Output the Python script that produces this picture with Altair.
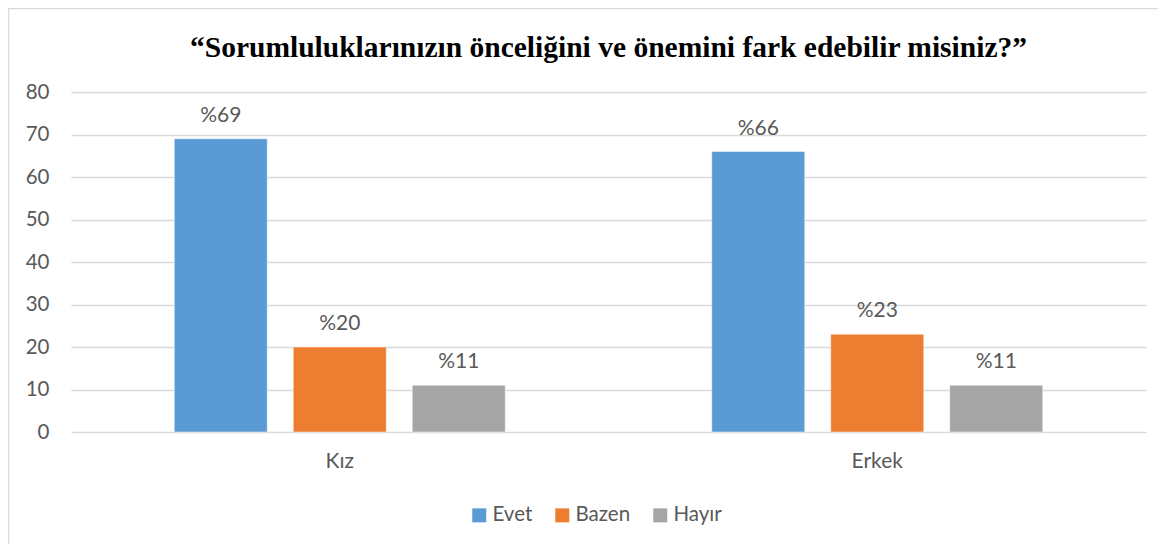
import altair as alt
import pandas as pd

groups = ["Kız", "Erkek"]
answers = ["Evet", "Bazen", "Hayır"]
values_kiz = [69, 20, 11]
values_erkek = [66, 23, 11]
colors = ["#5B9BD5", "#ED7D31", "#A5A5A5"]
y_ticks = [0, 10, 20, 30, 40, 50, 60, 70, 80]
title_text = "“Sorumluluklarınızın önceliğini ve önemini fark edebilir misiniz?”"

rows = []
for g, vals in zip(groups, [values_kiz, values_erkek]):
    for a, v in zip(answers, vals):
        rows.append({"grup": g, "cevap": a, "deger": v, "etiket": f"%{v}"})
df = pd.DataFrame(rows)

W, H = 1075, 340
FONT = "Lato"
GRAY = "#595959"

x = alt.X("grup:N", sort=groups, title=None,
          scale=alt.Scale(paddingInner=0.3842, paddingOuter=0.1921),
          axis=alt.Axis(labelAngle=0, labelPadding=18, ticks=False, domain=False,
                        labelFont=FONT, labelFontSize=21, labelColor=GRAY))
xo = alt.XOffset("cevap:N", sort=answers,
                 scale=alt.Scale(paddingInner=0.2185, paddingOuter=0))
y = alt.Y("deger:Q", title=None,
          scale=alt.Scale(domain=[0, 80], nice=False),
          axis=alt.Axis(values=y_ticks, ticks=False, domain=False, labelPadding=22,
                        labelFont=FONT, labelFontSize=20.5, labelColor=GRAY,
                        gridColor="#D9D9D9", gridWidth=1.3))

base = alt.Chart(df)

bars = base.mark_bar(stroke="#ffffff", strokeWidth=0.8, strokeOpacity=0.6).encode(
    x=x, xOffset=xo, y=y,
    color=alt.Color("cevap:N", sort=answers,
                    scale=alt.Scale(domain=answers, range=colors),
                    legend=alt.Legend(title=None, orient="none", direction="horizontal",
                                      legendX=398, legendY=413,
                                      symbolType="square", symbolSize=196,
                                      symbolStrokeWidth=0,
                                      labelFont=FONT, labelFontSize=20.5, labelColor=GRAY,
                                      columnPadding=19, labelOffset=3)),
)

labels = base.mark_text(baseline="alphabetic", dy=-17, font=FONT, fontSize=21, color=GRAY).encode(
    x=x, xOffset=xo, y=y, text="etiket:N"
)

border = alt.Chart(pd.DataFrame({"k": [0]})).mark_rect(
    fill=None, stroke="#D9D9D9", strokeWidth=1.5, clip=False
).encode(
    x=alt.value(-62.5), x2=alt.value(1200), y=alt.value(-83.5), y2=alt.value(600)
)

chart = alt.layer(border, bars, labels).properties(
    width=W, height=H,
    autosize=alt.AutoSizeParams(type="none"),
    padding={"left": 63, "top": 84, "right": 12, "bottom": 112},
    title=alt.TitleParams(title_text, font="Liberation Serif", fontSize=29.5, fontWeight="bold",
                          color="#000000", anchor="middle", offset=-56, frame="group"),
).configure_view(stroke=None).configure_legend(symbolStrokeWidth=0)

chart.save("out.html", embed_options={"renderer": "svg", "actions": False})
